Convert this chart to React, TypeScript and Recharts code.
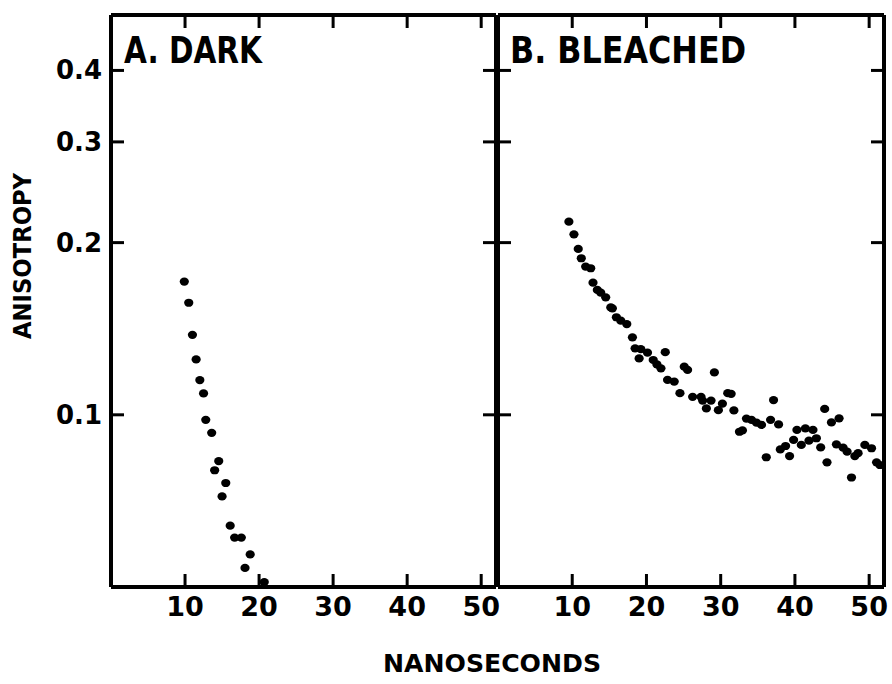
import React from 'react';
import { ScatterChart, Scatter, XAxis, YAxis } from 'recharts';

// ---- data (time in ns, anisotropy) ----
const xTicks = [10, 20, 30, 40, 50];
const yTicks = [0.1, 0.2, 0.3, 0.4];
const panelTitles = ['A. DARK', 'B. BLEACHED'];
const xAxisTitle = 'NANOSECONDS';
const yAxisTitle = 'ANISOTROPY';

const darkTime = [9.9, 10.5, 11.0, 11.5, 12.0, 12.5, 12.8, 13.6, 14.55, 14.0, 15.5, 15.0, 16.1, 16.7, 17.6, 18.8, 18.1, 20.7];
const darkAniso = [0.171, 0.157, 0.138, 0.125, 0.115, 0.109, 0.098, 0.093, 0.083, 0.08, 0.076, 0.072, 0.064, 0.061, 0.061, 0.057, 0.054, 0.051];

const bleachedTime = [
  9.55, 10.23, 10.81, 11.22, 11.81, 12.49, 12.8, 13.38, 13.84, 14.51,
  15.19, 15.41, 15.95, 16.54, 17.35, 18.11, 18.47, 19.24, 20.14, 19.01,
  22.53, 20.91, 21.41, 21.95, 22.84, 23.74, 24.51, 25.09, 25.54, 29.15,
  26.22, 27.35, 27.57, 28.7, 28.07, 30.23, 29.69, 30.95, 31.41, 31.78,
  32.53, 32.93, 33.47, 34.15, 34.82, 35.5, 36.72, 37.12, 37.8, 36.14,
  38.03, 38.74, 39.28, 39.82, 40.27, 41.41, 42.43, 40.86, 41.89, 42.89,
  43.47, 44.01, 44.92, 45.95, 44.32, 45.59, 46.49, 47.03, 47.62, 48.07,
  48.51, 49.42, 50.32, 51.0, 51.45,
];
const bleachedAniso = [
  0.2176, 0.2068, 0.195, 0.1878, 0.1816, 0.1804, 0.1702, 0.1653, 0.1635, 0.1605,
  0.1541, 0.1535, 0.1481, 0.1461, 0.1441, 0.1366, 0.1307, 0.1303, 0.1284, 0.1255,
  0.1287, 0.1247, 0.1225, 0.1206, 0.1151, 0.1143, 0.1091, 0.1214, 0.1198, 0.1186,
  0.1075, 0.1075, 0.1059, 0.1059, 0.1026, 0.1046, 0.1019, 0.1091, 0.1088, 0.1018,
  0.0934, 0.0939, 0.0985, 0.098, 0.0969, 0.096, 0.098, 0.1061, 0.0962, 0.0843,
  0.087, 0.0882, 0.0847, 0.0904, 0.0941, 0.0947, 0.0941, 0.0886, 0.0901, 0.091,
  0.0877, 0.1024, 0.097, 0.0986, 0.0826, 0.0888, 0.0876, 0.0862, 0.0777, 0.0847,
  0.0857, 0.0886, 0.0874, 0.0826, 0.0817,
];

const darkData = darkTime.map((t, i) => ({ t, a: darkAniso[i] }));
const bleachedData = bleachedTime.map((t, i) => ({ t, a: bleachedAniso[i] }));

const FONT = '"DejaVu Sans", Arial, sans-serif';
const W = 892;
const H = 684;
const X_DOMAIN: [number, number] = [0, 52];
const Y_DOMAIN: [number, number] = [0.05, 0.5];
const AXIS_STROKE = { stroke: '#000', strokeWidth: 4 };

const Dot = (props: any) => {
  const { cx, cy } = props;
  if (cx == null || cy == null) return null;
  return <ellipse cx={cx} cy={cy} rx={4.6} ry={4.1} fill="#000" />;
};

const LeftYTick = (props: any) => {
  const { x, y, payload, showLabel } = props;
  return (
    <g>
      <line x1={x} x2={x + 13} y1={y} y2={y} stroke="#000" strokeWidth={3} />
      {showLabel ? (
        <text x={x - 9} y={y} dy={9} textAnchor="end" fontFamily={FONT} fontWeight="bold" fontSize={26} fill="#000">
          {Number(payload.value).toFixed(1)}
        </text>
      ) : null}
    </g>
  );
};

const RightYTick = (props: any) => {
  const { x, y } = props;
  return <line x1={x - 13} x2={x} y1={y} y2={y} stroke="#000" strokeWidth={3} />;
};

const BottomXTick = (props: any) => {
  const { x, y, payload } = props;
  return (
    <g>
      <line x1={x} x2={x} y1={y - 13} y2={y} stroke="#000" strokeWidth={3} />
      <text x={x} y={y + 29} textAnchor="middle" fontFamily={FONT} fontWeight="bold" fontSize={27} fill="#000">
        {payload.value}
      </text>
    </g>
  );
};

const TopXTick = (props: any) => {
  const { x, y } = props;
  return <line x1={x} x2={x} y1={y} y2={y + 13} stroke="#000" strokeWidth={3} />;
};

type PanelProps = {
  data: { t: number; a: number }[];
  margin: { left: number; right: number; top: number; bottom: number };
  showYLabels: boolean;
};

const Panel = ({ data, margin, showYLabels }: PanelProps) => (
  <div style={{ position: 'absolute', left: 0, top: 0 }}>
    <ScatterChart width={W} height={H} margin={margin}>
      <XAxis
        xAxisId="bottom"
        dataKey="t"
        type="number"
        orientation="bottom"
        domain={X_DOMAIN}
        ticks={xTicks}
        allowDataOverflow
        height={30}
        tickSize={0}
        tickMargin={0}
        tickLine={false}
        axisLine={AXIS_STROKE}
        tick={<BottomXTick />}
        interval={0}
      />
      <XAxis
        xAxisId="top"
        dataKey="t"
        type="number"
        orientation="top"
        domain={X_DOMAIN}
        ticks={xTicks}
        allowDataOverflow
        height={10}
        tickSize={0}
        tickMargin={0}
        tickLine={false}
        axisLine={AXIS_STROKE}
        tick={<TopXTick />}
        interval={0}
      />
      <YAxis
        yAxisId="left"
        dataKey="a"
        type="number"
        scale="log"
        orientation="left"
        domain={Y_DOMAIN}
        ticks={yTicks}
        allowDataOverflow
        width={10}
        tickSize={0}
        tickMargin={0}
        tickLine={false}
        axisLine={AXIS_STROKE}
        tick={<LeftYTick showLabel={showYLabels} />}
        interval={0}
      />
      <YAxis
        yAxisId="right"
        dataKey="a"
        type="number"
        scale="log"
        orientation="right"
        domain={Y_DOMAIN}
        ticks={yTicks}
        allowDataOverflow
        width={8}
        tickSize={0}
        tickMargin={0}
        tickLine={false}
        axisLine={AXIS_STROKE}
        tick={<RightYTick />}
        interval={0}
      />
      <Scatter
        data={data}
        xAxisId="bottom"
        yAxisId="left"
        fill="#000"
        shape={<Dot />}
        isAnimationActive={false}
      />
    </ScatterChart>
  </div>
);

export default function App() {
  return (
    <div style={{ position: 'absolute', left: 0, top: 0, width: W, height: H, background: '#fff' }}>
      <Panel
        data={darkData}
        margin={{ left: 101, right: W - 496 - 8, top: 5, bottom: 67 }}
        showYLabels={true}
      />
      <Panel
        data={bleachedData}
        margin={{ left: 488, right: 0, top: 5, bottom: 67 }}
        showYLabels={false}
      />
      <svg width={W} height={H} style={{ position: 'absolute', left: 0, top: 0, pointerEvents: 'none' }}>
        <text x={124} y={63} fontFamily={FONT} fontWeight="bold" fontSize={37} textLength={138} lengthAdjust="spacingAndGlyphs" fill="#000">
          {panelTitles[0]}
        </text>
        <text x={510} y={63} fontFamily={FONT} fontWeight="bold" fontSize={37} textLength={236} lengthAdjust="spacingAndGlyphs" fill="#000">
          {panelTitles[1]}
        </text>
        <text x={383} y={672} fontFamily={FONT} fontWeight="bold" fontSize={25} textLength={218} lengthAdjust="spacingAndGlyphs" fill="#000">
          {xAxisTitle}
        </text>
        <text
          x={0}
          y={0}
          transform="translate(31, 339) rotate(-90)"
          fontFamily={FONT}
          fontWeight="bold"
          fontSize={25}
          textLength={166}
          lengthAdjust="spacingAndGlyphs"
          fill="#000"
        >
          {yAxisTitle}
        </text>
      </svg>
    </div>
  );
}
